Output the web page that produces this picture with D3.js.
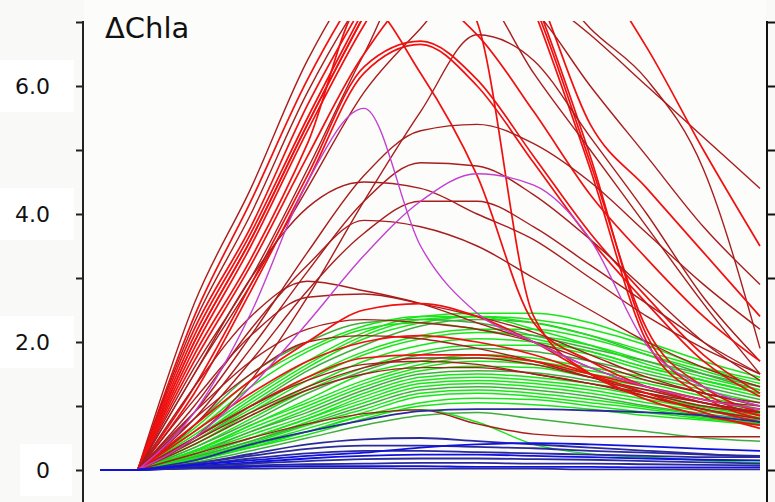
<!DOCTYPE html>
<html>
<head>
<meta charset="utf-8">
<script src="https://cdn.jsdelivr.net/npm/d3@7"></script>
<style>
  html, body { margin: 0; padding: 0; background: #f9f9f8; }
  svg { display: block; }
</style>
</head>
<body>
<svg id="chart" width="775" height="502"></svg>
<script>
// Sampling days shared by every trajectory
const days = [0, 2, 5, 8, 11, 14, 17, 20, 23, 26, 29, 32, 35];

// Axis ticks and labels
const yTicks = [0, 1, 2, 3, 4, 5, 6, 7];
const yTickLabels = ["0", "", "2.0", "", "4.0", "", "6.0", ""];
const titleText = "\u0394Chla";

// High-response trajectories (red)
const redSeries = [
  [0, 0, 2.6, 4.4, 6.4, 7.8, 8.3, 8.2, 7.5, 6.8, 6.0, 5.2, 4.4],
  [0, 0, 2.4, 4.2, 6.1, 7.6, 8.6, 9.0, 8.6, 7.9, 6.6, 5.0, 3.5],
  [0, 0, 2.3, 4.0, 5.9, 7.4, 8.4, 8.6, 7.9, 6.9, 6.1, 4.7, 1.9],
  [0, 0, 2.2, 3.8, 5.7, 7.3, 8.8, 9.2, 7.4, 4.9, 2.1, 1.22, 0.85],
  [0, 0, 2.1, 3.7, 5.5, 7.2, 8.9, 9.3, 7.2, 4.7, 2.0, 1.15, 0.80],
  [0, 0, 2.0, 3.6, 5.4, 7.1, 8.7, 9.0, 7.3, 4.8, 2.2, 1.30, 0.90],
  [0, 0, 1.9, 3.5, 5.3, 6.95, 8.2, 7.0, 2.4, 1.5, 1.15, 0.95, 0.75],
  [0, 0, 1.8, 3.3, 5.1, 7.3, 6.2, 4.6, 2.3, 1.7, 1.3, 1.05, 0.85],
  [0, 0, 0.5, 1.4, 2.7, 4.2, 5.6, 6.8, 6.4, 5.2, 4.0, 2.7, 1.7],
  [0, 0, 1.6, 3.0, 4.7, 6.5, 8.0, 7.6, 6.2, 5.0, 3.8, 2.6, 1.5],
  [0, 0, 2.0, 3.6, 5.4, 7.1, 8.6, 9.0, 7.6, 5.4, 4.4, 3.4, 2.4],
  [0, 0, 1.7, 3.2, 4.9, 6.5, 7.4, 6.8, 5.6, 4.3, 3.3, 2.4, 1.7],
  [0, 0, 1.5, 2.9, 4.4, 5.9, 6.9, 7.8, 7.2, 6.0, 4.9, 3.8, 2.9],
  [0, 0, 1.3, 2.9, 4.6, 6.3, 6.7, 6.1, 4.9, 3.7, 2.7, 1.8, 1.2],
  [0, 0, 1.2, 2.8, 4.5, 6.2, 6.65, 6.0, 4.8, 3.6, 2.6, 1.7, 1.15],
  [0, 0, 0.9, 2.1, 3.4, 4.6, 5.3, 5.4, 5.1, 4.5, 3.7, 2.9, 2.2],
  [0, 0, 0.8, 1.9, 3.1, 4.2, 4.8, 4.75, 4.3, 3.6, 2.8, 2.0, 1.4],
  [0, 0, 1.5, 3.0, 4.1, 4.5, 4.4, 4.0, 3.6, 3.0, 2.4, 1.9, 1.5],
  [0, 0, 0.7, 1.7, 2.8, 3.7, 4.2, 4.2, 3.8, 3.2, 2.6, 2.0, 1.5],
  [0, 0, 1.0, 2.2, 3.2, 3.9, 3.8, 3.5, 3.0, 2.5, 2.0, 1.6, 1.3],
  [0, 0, 1.3, 2.4, 2.95, 2.8, 2.6, 2.3, 2.0, 1.6, 1.3, 1.1, 1.0],
  [0, 0, 1.1, 2.1, 2.7, 2.75, 2.6, 2.4, 2.15, 1.8, 1.45, 1.2, 1.05],
  [0, 0, 0.9, 1.7, 2.2, 2.35, 2.3, 2.2, 2.0, 1.7, 1.4, 1.2, 1.0],
  [0, 0, 0.8, 1.5, 2.0, 2.1, 2.05, 1.9, 1.7, 1.45, 1.2, 1.0, 0.9],
  [0, 0, 0.5, 1.0, 1.45, 1.75, 1.8, 1.8, 1.7, 1.5, 1.3, 1.1, 0.95],
  [0, 0, 0.45, 0.9, 1.3, 1.6, 1.75, 1.75, 1.65, 1.45, 1.25, 1.05, 0.9],
  [0, 0, 0.5, 1.0, 1.4, 1.65, 1.7, 1.65, 1.5, 1.35, 1.2, 1.05, 0.9],
  [0, 0, 0.4, 0.85, 1.25, 1.5, 1.6, 1.6, 1.5, 1.35, 1.15, 0.95, 0.8],
  [0, 0, 0.25, 0.5, 0.72, 0.88, 0.94, 0.72, 0.56, 0.52, 0.52, 0.52, 0.52],
  [0, 0, 0.7, 1.4, 2.0, 2.5, 2.6, 2.4, 2.0, 1.5, 1.1, 0.85, 0.7],
  [0, 0, 0.6, 1.2, 1.7, 2.0, 2.1, 2.0, 1.8, 1.5, 1.2, 0.9, 0.65]
];
// Which red trajectories are drawn in the brighter tone
const brightRed = [1, 3, 4, 5, 6, 7, 10, 11, 13, 14, 24, 29, 30];

// Moderate-response trajectories (green)
const greenSeries = [
  [0, 0, 0.55, 1.15, 1.7, 2.15, 2.4, 2.45, 2.45, 2.3, 2.0, 1.7, 1.45],
  [0, 0, 0.5, 1.05, 1.6, 2.05, 2.3, 2.4, 2.35, 2.2, 1.95, 1.6, 1.35],
  [0, 0, 0.45, 1.0, 1.55, 1.95, 2.25, 2.35, 2.3, 2.1, 1.8, 1.5, 1.25],
  [0, 0, 0.6, 1.3, 1.85, 2.2, 2.3, 2.2, 2.05, 1.85, 1.6, 1.4, 1.2],
  [0, 0, 0.4, 0.9, 1.4, 1.8, 2.05, 2.15, 2.1, 1.95, 1.7, 1.45, 1.25],
  [0, 0, 0.4, 0.85, 1.3, 1.7, 1.95, 2.05, 2.0, 1.85, 1.6, 1.4, 1.2],
  [0, 0, 0.35, 0.8, 1.25, 1.6, 1.85, 1.95, 1.95, 1.8, 1.55, 1.35, 1.15],
  [0, 0, 0.35, 0.75, 1.2, 1.55, 1.8, 1.9, 1.85, 1.7, 1.5, 1.3, 1.1],
  [0, 0, 0.3, 0.7, 1.1, 1.5, 1.7, 1.8, 1.75, 1.6, 1.45, 1.25, 1.05],
  [0, 0, 0.3, 0.7, 1.05, 1.4, 1.65, 1.75, 1.7, 1.55, 1.4, 1.2, 1.0],
  [0, 0, 0.3, 0.65, 1.0, 1.35, 1.6, 1.7, 1.65, 1.5, 1.35, 1.15, 0.95],
  [0, 0, 0.28, 0.6, 0.95, 1.3, 1.55, 1.62, 1.6, 1.45, 1.3, 1.1, 0.92],
  [0, 0, 0.25, 0.6, 0.9, 1.25, 1.5, 1.55, 1.52, 1.4, 1.25, 1.05, 0.9],
  [0, 0, 0.25, 0.55, 0.85, 1.2, 1.45, 1.5, 1.45, 1.35, 1.2, 1.0, 0.88],
  [0, 0, 0.22, 0.5, 0.8, 1.15, 1.4, 1.45, 1.4, 1.3, 1.15, 0.98, 0.85],
  [0, 0, 0.22, 0.5, 0.8, 1.1, 1.35, 1.4, 1.35, 1.25, 1.1, 0.95, 0.82],
  [0, 0, 0.2, 0.45, 0.75, 1.05, 1.3, 1.35, 1.3, 1.2, 1.05, 0.92, 0.8],
  [0, 0, 0.2, 0.45, 0.72, 1.0, 1.25, 1.3, 1.25, 1.15, 1.0, 0.88, 0.78],
  [0, 0, 0.18, 0.42, 0.7, 0.95, 1.2, 1.25, 1.2, 1.1, 0.98, 0.85, 0.75],
  [0, 0, 0.18, 0.4, 0.65, 0.9, 1.15, 1.2, 1.15, 1.05, 0.95, 0.82, 0.73],
  [0, 0, 0.15, 0.38, 0.6, 0.85, 1.05, 1.12, 1.1, 1.0, 0.9, 0.8, 0.72],
  [0, 0, 0.15, 0.35, 0.55, 0.8, 1.0, 1.05, 1.02, 0.95, 0.85, 0.78, 0.7],
  [0, 0, 0.7, 1.5, 2.0, 2.3, 2.35, 2.3, 2.1, 1.9, 1.7, 1.5, 1.3],
  [0, 0, 0.65, 1.4, 1.9, 2.25, 2.4, 2.4, 2.3, 2.1, 1.85, 1.6, 1.4],
  [0, 0, 0.15, 0.35, 0.6, 0.85, 0.94, 0.75, 0.4, 0.25, 0.2, 0.15, 0.12],
  [0, 0, 0.12, 0.3, 0.5, 0.7, 0.85, 0.9, 0.8, 0.7, 0.6, 0.5, 0.45],
  [0, 0, 0.5, 1.1, 1.65, 2.1, 2.35, 2.4, 2.2, 1.95, 1.65, 1.4, 1.2],
  [0, 0, 0.45, 0.95, 1.45, 1.85, 2.1, 2.2, 2.2, 2.05, 1.8, 1.55, 1.3]
];
const darkGreen = [2, 7, 12, 17, 22, 25];

// Low-response trajectories (blue)
const blueSeries = [
  [0, 0, 0.15, 0.4, 0.6, 0.78, 0.92, 0.95, 0.95, 0.93, 0.9, 0.85, 0.75],
  [0, 0, 0.1, 0.25, 0.4, 0.48, 0.5, 0.45, 0.4, 0.35, 0.3, 0.25, 0.2],
  [0, 0, 0.1, 0.22, 0.33, 0.38, 0.38, 0.36, 0.34, 0.3, 0.27, 0.24, 0.22],
  [0, 0, 0.08, 0.18, 0.26, 0.3, 0.3, 0.28, 0.26, 0.24, 0.22, 0.2, 0.2],
  [0, 0, 0.06, 0.12, 0.18, 0.22, 0.24, 0.24, 0.22, 0.2, 0.18, 0.16, 0.15],
  [0, 0, 0.05, 0.1, 0.14, 0.17, 0.18, 0.18, 0.17, 0.16, 0.14, 0.12, 0.1],
  [0, 0, 0.04, 0.07, 0.09, 0.1, 0.11, 0.11, 0.1, 0.1, 0.09, 0.08, 0.07],
  [0, 0, 0.03, 0.05, 0.06, 0.06, 0.06, 0.05, 0.05, 0.05, 0.04, 0.04, 0.04],
  [0, 0, 0.02, 0.02, 0.03, 0.03, 0.02, 0.02, 0.02, 0.01, 0.01, 0.01, 0.01],
  [0, 0, 0.08, 0.15, 0.22, 0.27, 0.35, 0.4, 0.42, 0.4, 0.37, 0.33, 0.3]
];
const brightBlue = [4, 7, 9];

// Two distinct trajectories (magenta)
const magentaSeries = [
  [0, 0, 0.9, 2.45, 4.5, 5.65, 3.5, 2.45, 2.0, 1.6, 1.3, 1.1, 0.95],
  [0, 0, 0.5, 1.3, 2.3, 3.35, 4.2, 4.63, 4.45, 3.6, 1.95, 1.3, 1.0]
];

const svg = d3.select("#chart");
const W = 775, H = 502;

const x = d3.scaleLinear().domain([0, 35]).range([100, 760]);
const y = d3.scaleLinear().domain([0, 7]).range([470, 22]);

// page backdrop
svg.append("rect").attr("width", W).attr("height", H).attr("fill", "#f9f9f8");
svg.append("rect").attr("x", 84).attr("y", 0).attr("width", 682).attr("height", H).attr("fill", "#fcfcfb");

// white panels behind the tick labels
[6, 4, 2, 0].forEach(v => {
  svg.append("rect")
    .attr("x", v === 0 ? 20 : 0).attr("y", y(v) - 26)
    .attr("width", v === 0 ? 52 : 74).attr("height", 52)
    .attr("fill", "#ffffff");
});

svg.append("clipPath").attr("id", "plotClip")
  .append("rect").attr("x", 90).attr("y", y(7) - 1).attr("width", 672).attr("height", 470);

// The flat pre-treatment stretch is a straight segment; the response after
// day 2 is a smooth monotone curve starting from the same point.
const curve = d3.line()
  .x(d => x(d[0]))
  .y(d => y(d[1]))
  .curve(d3.curveMonotoneX);
const pathFor = vals => {
  const pts = vals.map((v, i) => [days[i], v]);
  const head = `M${x(pts[0][0])},${y(pts[0][1])}L${x(pts[1][0])},${y(pts[1][1])}`;
  return head + curve(pts.slice(1)).replace(/^M/, "L");
};

const plot = svg.append("g").attr("clip-path", "url(#plotClip)")
  .attr("fill", "none").attr("stroke-linejoin", "round");

plot.append("g").selectAll("path").data(greenSeries).join("path")
  .attr("d", pathFor)
  .attr("stroke", (d, i) => darkGreen.includes(i) ? "#3fae3f" : "#19e619")
  .attr("stroke-width", 1.5);

plot.append("g").selectAll("path").data(redSeries).join("path")
  .attr("d", pathFor)
  .attr("stroke", (d, i) => brightRed.includes(i) ? "#f01010" : "#a81d1d")
  .attr("stroke-width", (d, i) => brightRed.includes(i) ? 1.7 : 1.4);

plot.append("g").selectAll("path").data(magentaSeries).join("path")
  .attr("d", pathFor)
  .attr("stroke", "#c23fd0")
  .attr("stroke-width", 1.4);

plot.append("g").selectAll("path").data(blueSeries).join("path")
  .attr("d", pathFor)
  .attr("stroke", (d, i) => brightBlue.includes(i) ? "#1010e0" : "#2a2a9a")
  .attr("stroke-width", 1.8);

// left axis
const leftAxis = svg.append("g").attr("transform", "translate(83,0)")
  .call(d3.axisLeft(y).tickValues(yTicks).tickSize(7).tickPadding(26)
    .tickFormat((d, i) => yTickLabels[i]));
leftAxis.select(".domain").remove();
leftAxis.selectAll(".tick line").attr("stroke", "#222").attr("stroke-width", 2);
leftAxis.selectAll(".tick text")
  .attr("font-family", "'DejaVu Sans', Verdana, sans-serif")
  .attr("font-size", 22).attr("fill", "#111");
svg.append("line").attr("x1", 83).attr("x2", 83).attr("y1", y(7) - 1).attr("y2", H)
  .attr("stroke", "#222").attr("stroke-width", 2);

// right axis
const rightAxis = svg.append("g").attr("transform", "translate(767,0)")
  .call(d3.axisRight(y).tickValues(yTicks).tickSize(8).tickFormat(""));
rightAxis.select(".domain").remove();
rightAxis.selectAll(".tick line").attr("stroke", "#111").attr("stroke-width", 2);
svg.append("line").attr("x1", 767).attr("x2", 767).attr("y1", y(7) - 1).attr("y2", H)
  .attr("stroke", "#111").attr("stroke-width", 2);

// title
svg.append("text").attr("x", 105).attr("y", 38)
  .attr("font-family", "'DejaVu Sans', Verdana, sans-serif")
  .attr("font-size", 29).attr("fill", "#111")
  .text(titleText);
</script>
</body>
</html>
